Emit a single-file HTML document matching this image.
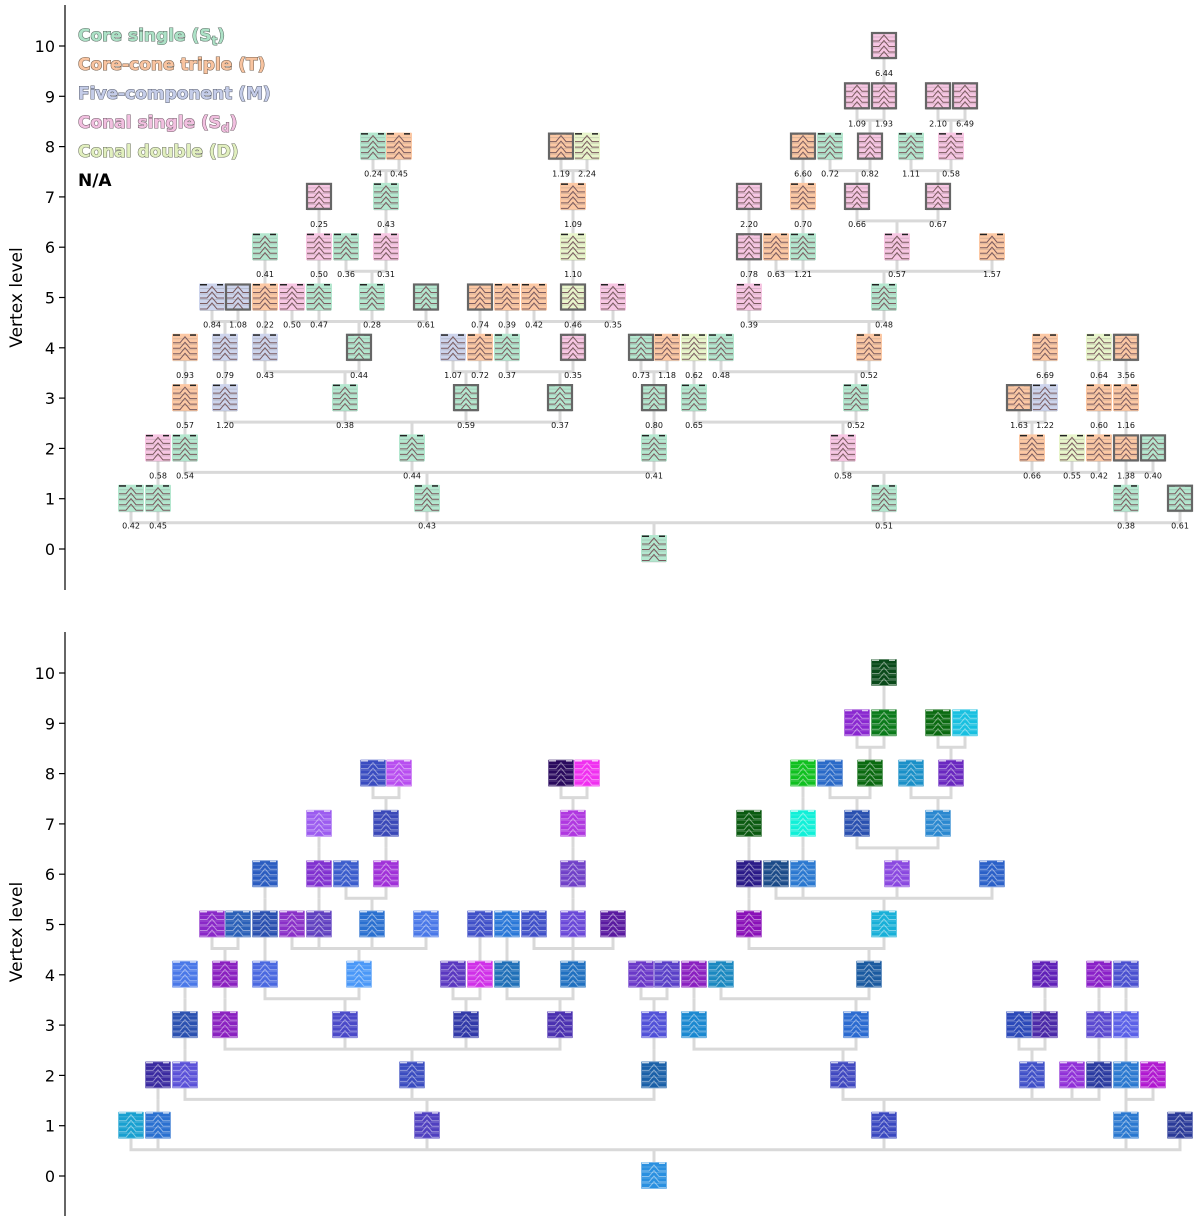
<!DOCTYPE html>
<html><head><meta charset="utf-8">
<style>
html,body{margin:0;padding:0;background:#fff;}
svg{display:block;font-family:"DejaVu Sans","Liberation Sans",sans-serif;}
</style></head>
<body>
<svg id="chart" width="1200" height="1225" viewBox="0 0 1200 1225" xmlns="http://www.w3.org/2000/svg">
  <g id="axes"></g>
  <g id="lines"></g>
  <g id="nodes"></g>
  <g id="labels"></g>
  <g id="legend">
    <text x="78" y="41" font-size="17" font-weight="bold" fill="#ade2c7" stroke="#5f6f67" stroke-width="1.1" paint-order="stroke">Core single (S<tspan font-size="12" dy="4">t</tspan><tspan dy="-4">)</tspan></text>
    <text x="78" y="70" font-size="17" font-weight="bold" fill="#f9c4a0" stroke="#75604f" stroke-width="1.1" paint-order="stroke">Core-cone triple (T)</text>
    <text x="78" y="99" font-size="17" font-weight="bold" fill="#c5cde9" stroke="#5d6272" stroke-width="1.1" paint-order="stroke">Five-component (M)</text>
    <text x="78" y="128" font-size="17" font-weight="bold" fill="#f2c0e0" stroke="#75606d" stroke-width="1.1" paint-order="stroke">Conal single (S<tspan font-size="12" dy="4">d</tspan><tspan dy="-4">)</tspan></text>
    <text x="78" y="157" font-size="17" font-weight="bold" fill="#e2f0bf" stroke="#6c7160" stroke-width="1.1" paint-order="stroke">Conal double (D)</text>
    <text x="78" y="186" font-size="17" font-weight="bold" fill="#000">N/A</text>
  </g>
</svg>
<script>
// ---- data ----
const levels = [0,
 1,1,1,1,1,1,
 2,2,2,2,2,2,2,2,2,2,
 3,3,3,3,3,3,3,3,3,3,3,3,
 4,4,4,4,4,4,4,4,4,4,4,4,4,4,4,4,
 5,5,5,5,5,5,5,5,5,5,5,5,5,5,
 6,6,6,6,6,6,6,6,6,6,
 7,7,7,7,7,7,7,
 8,8,8,8,8,8,8,8,8,
 9,9,9,9,
 10];
const nodeX = [654,
 131,158,427,884,1126,1180,
 158,185,412,654,843,1032,1072,1099,1126,1153,
 185,225,345,466,560,654,694,856,1019,1045,1099,1126,
 185,225,265,359,453,480,507,573,641,667,694,721,869,1045,1099,1126,
 212,238,265,292,319,372,426,480,507,534,573,613,749,884,
 265,319,346,386,573,749,776,803,897,992,
 319,386,573,749,803,857,938,
 373,399,561,587,803,830,870,911,951,
 857,884,938,965,
 884];
const classes = ['S',
 'S','S','S','S','S','S',
 'P','S','S','S','P','T','D','T','T','S',
 'T','M','S','S','S','S','S','S','T','M','T','T',
 'T','M','M','S','M','T','S','P','S','T','D','S','T','T','D','T',
 'M','M','T','P','S','S','S','T','T','T','D','P','P','S',
 'S','P','S','P','D','P','T','S','P','T',
 'P','S','T','P','T','P','P',
 'S','T','T','D','T','S','P','S','P',
 'P','P','P','P',
 'P'];
const values = ['',
 '0.42','0.45','0.43','0.51','0.38','0.61',
 '0.58','0.54','0.44','0.41','0.58','0.66','0.55','0.42','1.38','0.40',
 '0.57','1.20','0.38','0.59','0.37','0.80','0.65','0.52','1.63','1.22','0.60','1.16',
 '0.93','0.79','0.43','0.44','1.07','0.72','0.37','0.35','0.73','1.18','0.62','0.48','0.52','6.69','0.64','3.56',
 '0.84','1.08','0.22','0.50','0.47','0.28','0.61','0.74','0.39','0.42','0.46','0.35','0.39','0.48',
 '0.41','0.50','0.36','0.31','1.10','0.78','0.63','1.21','0.57','1.57',
 '0.25','0.43','1.09','2.20','0.70','0.66','0.67',
 '0.24','0.45','1.19','2.24','6.60','0.72','0.82','1.11','0.58',
 '1.09','1.93','2.10','6.49',
 '6.44'];
const parentX = [null,
 654,654,654,654,654,654,
 158,427,427,427,884,884,884,884,1126,1126,
 185,412,412,412,412,654,843,843,1032,1032,1099,1126,
 185,225,345,345,466,466,560,560,654,654,694,856,856,1045,1099,1126,
 225,225,265,359,359,359,359,480,507,573,573,573,869,869,
 265,319,372,372,573,749,884,884,884,884,
 319,386,573,749,803,897,897,
 386,386,573,573,803,857,857,938,938,
 870,870,951,951,
 884];
const boxed = [0,
 0,0,0,0,0,1,
 0,0,0,0,0,0,0,0,1,1,
 0,0,0,1,1,1,0,0,1,0,0,0,
 0,0,0,1,0,0,0,1,1,0,0,0,0,0,0,1,
 0,1,0,0,0,0,1,1,0,0,1,0,0,0,
 0,0,0,0,0,1,0,0,0,0,
 1,0,0,1,0,1,1,
 0,0,1,0,1,0,1,0,0,
 1,1,1,1,
 1];
const lowerColors = ['#2a90e0',
 '#18a0d0','#2a70d0','#5040c0','#3a48c0','#2a78d0','#2a3a98',
 '#3a2aa0','#5a50d8','#3a4cc0','#1a60a8','#4048c0','#4050c8','#9030d8','#2a3aa0','#2a78d0','#b018d0',
 '#2a50b0','#8a20c0','#4a48c8','#3038a8','#4a30b0','#5050d8','#1a88d0','#2a6ad0','#2a48b8','#4a28a8','#5a48d0','#5a60e8',
 '#4a78e8','#8a20c0','#4a68e0','#4a98f8','#5a38c0','#d030e8','#2070b8','#2070c0','#6a38c8','#5a40c8','#8a20c0','#1a88c0','#1a5aa0','#6020b8','#8a20c8','#4a50d0',
 '#8a28c8','#2a60b8','#2a50b0','#8a30c8','#6040c0','#2a70d0','#4a78e8','#4050c8','#2a78d8','#4050c8','#6a48d8','#5a1aa0','#8a10b8','#18b0d8',
 '#2a5cc0','#8030d0','#3a5ccc','#a030d8','#7040c8','#2a1a88','#1a4a88','#2a78d0','#8a48e0','#2a60c8',
 '#9c5cf0','#3a48b8','#b038e0','#0a5a10','#10f0d8','#2a50b0','#2a88d0',
 '#3a4cc0','#b84ef0','#2a0a5e','#f030f0','#10c020','#2a6ac8','#0a6a10','#1a90c8','#6a28c0',
 '#8a28d0','#0a7a1a','#0a6a10','#18c0e0',
 '#0a4a1a'];
const yTicks = [0,1,2,3,4,5,6,7,8,9,10];

// ---- layout ----
const NS = 'http://www.w3.org/2000/svg';
const classFill = {S:'#b4e7cf', T:'#fcc8a4', M:'#cdd4ec', P:'#f7c6e3', D:'#e8f5cb'};
const panels = [
  {name:'upper', y0:549, top:5, bottom:590, lower:false},
  {name:'lower', y0:1176, top:632, bottom:1216, lower:true}
];
const STEP = 50.3;
function yScale(p, lvl){ return p.y0 - STEP*lvl; }
function mk(tag, attrs, parent){
  const e = document.createElementNS(NS, tag);
  for (const k in attrs) e.setAttribute(k, attrs[k]);
  parent.appendChild(e); return e;
}
const gAxes = document.getElementById('axes');
const gLines = document.getElementById('lines');
const gNodes = document.getElementById('nodes');
const gLabels = document.getElementById('labels');

function findParent(i){
  if (parentX[i] === null) return -1;
  let best=-1, bd=1e9;
  for (let j=0;j<levels.length;j++){
    if (levels[j]===levels[i]-1){
      const d=Math.abs(nodeX[j]-parentX[i]);
      if (d<bd){bd=d;best=j;}
    }
  }
  return best;
}
const parents = levels.map((_,i)=>findParent(i));

panels.forEach(p=>{
  const ax = mk('line',{x1:65,x2:65,y1:p.top,y2:p.bottom,stroke:'#000','stroke-width':1.2},gAxes);
  
  
  yTicks.forEach(t=>{
    const y = yScale(p,t);
    const tk = mk('line',{x1:59,x2:65,y1:y,y2:y,stroke:'#000','stroke-width':1.2},gAxes);
    
    
    const tl = mk('text',{x:55,y:y+6,'text-anchor':'end','font-size':16,fill:'#000'},gAxes);
    tl.textContent = String(t);
    
    
  });
  const midY = (p.top+p.bottom)/2 + (p.lower?8:0);
  const yt = mk('text',{x:22,y:midY,'text-anchor':'middle','font-size':17,fill:'#000',transform:'rotate(-90 22 '+midY+')'},gAxes);
  yt.textContent = 'Vertex level';
  
  

  const groups = {};
  levels.forEach((l,i)=>{ const pi=parents[i]; if(pi>=0){ (groups[pi]=groups[pi]||[]).push(i);} });
  Object.keys(groups).forEach(k=>{
    const pi = +k, kids = groups[k];
    const ly = yScale(p, levels[kids[0]]) + 24;
    const xs = kids.map(i=>nodeX[i]).concat([nodeX[pi]]);
    const minx = Math.min(...xs), maxx = Math.max(...xs);
    const attrs = {stroke:'#d9d9d9','stroke-width':3,fill:'none'};
    if (maxx>minx){
      const h = mk('line',Object.assign({x1:minx-1.5,x2:maxx+1.5,y1:ly,y2:ly},attrs),gLines);
      
      
    }
    const pv = mk('line',Object.assign({x1:nodeX[pi],x2:nodeX[pi],y1:ly,y2:yScale(p,levels[pi])-13},attrs),gLines);
    
    
    kids.forEach(i=>{
      const cv = mk('line',Object.assign({x1:nodeX[i],x2:nodeX[i],y1:yScale(p,levels[i])+13,y2:ly},attrs),gLines);
      
      
    });
  });

  levels.forEach((l,i)=>{
    const cx = nodeX[i], cy = yScale(p,l);
    const g = mk('g',{},gNodes);
    
    
    const fill = p.lower ? lowerColors[i] : classFill[classes[i]];
    const lineCol = p.lower ? 'rgba(255,255,255,0.45)' : '#7a5a5e';
    const stripeCol = p.lower ? 'rgba(255,255,255,0.18)' : 'rgba(120,120,120,0.25)';
    mk('rect',{x:cx-13,y:cy-14,width:26,height:27,fill:fill,rx:1},g);
    for (let s=0;s<5;s++){
      const sy = cy-9+s*5.5;
      mk('line',{x1:cx-12,x2:cx+12,y1:sy,y2:sy,stroke:stripeCol,'stroke-width':1},g);
    }
    for (let s=0;s<4;s++){
      const by = cy-5+s*5.5;
      mk('polyline',{points:(cx-12)+','+by+' '+(cx-5)+','+by+' '+cx+','+(by-6)+' '+(cx+5)+','+by+' '+(cx+12)+','+by,
        fill:'none',stroke:lineCol,'stroke-width':1},g);
    }
    mk('rect',{x:cx-12,y:cy-13.5,width:7,height:1.5,fill:p.lower?'rgba(255,255,255,0.7)':'#222'},g);
    mk('rect',{x:cx+5,y:cy-13.5,width:6,height:1.5,fill:p.lower?'rgba(255,255,255,0.7)':'#222'},g);
    if (!p.lower && boxed[i]){
      mk('rect',{x:cx-12,y:cy-13,width:24,height:25,fill:'none',stroke:'#666','stroke-width':2.2},g);
    } else if (p.lower) {
      mk('rect',{x:cx-12.5,y:cy-13.5,width:25,height:26,fill:'none',stroke:'rgba(255,255,255,0.35)','stroke-width':1},g);
    }
    if (!p.lower && values[i] !== ''){
      const t = mk('text',{x:cx,y:cy+30,'text-anchor':'middle','font-size':8,fill:'#111'},gLabels);
      t.textContent = values[i];
      
      
    }
  });
});
</script>
</body></html>
